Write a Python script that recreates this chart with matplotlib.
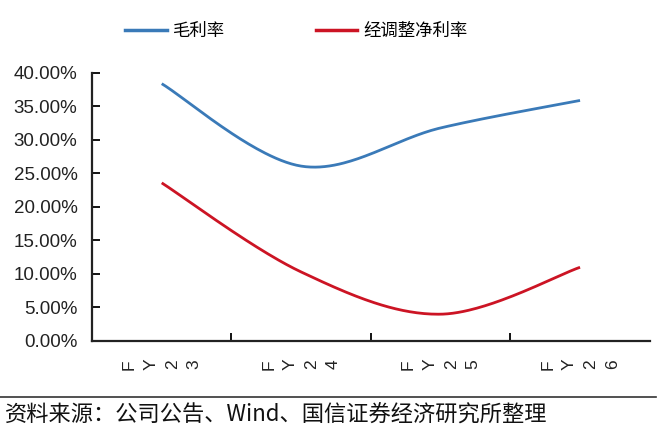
import numpy as np
import matplotlib
matplotlib.use("Agg")
import matplotlib.pyplot as plt
from matplotlib.lines import Line2D

plt.rcParams['font.family'] = ['Liberation Sans', 'Noto Sans CJK SC', 'DejaVu Sans']

# data
years = ["FY23", "FY24", "FY25", "FY26"]
gross_margin = [0.384, 0.261, 0.318, 0.359]
adj_net_margin = [0.236, 0.103, 0.040, 0.110]

BLUE = '#3a7ab8'
RED = '#cc1424'


# Excel-style smoothed line (Catmull-Rom through the points)
def smooth(y, n=60):
    x = np.arange(len(y), dtype=float)
    p = np.column_stack([x, np.asarray(y, dtype=float)])
    p = np.vstack([p[0], p, p[-1]])
    out = []
    for i in range(1, len(p) - 2):
        p0, p1, p2, p3 = p[i - 1], p[i], p[i + 1], p[i + 2]
        t = np.linspace(0, 1, n)[:, None]
        seg = 0.5 * ((2 * p1) + (-p0 + p2) * t
                     + (2 * p0 - 5 * p1 + 4 * p2 - p3) * t ** 2
                     + (-p0 + 3 * p1 - 3 * p2 + p3) * t ** 3)
        out.append(seg)
    out = np.vstack(out)
    return out[:, 0], out[:, 1]


fig = plt.figure(figsize=(6.59, 4.37), dpi=100)
ax = fig.add_axes([0.1396, 0.2197, 0.8464, 0.6133])

for vals, col in [(gross_margin, BLUE), (adj_net_margin, RED)]:
    sx, sy = smooth(vals)
    ax.plot(sx, sy, color=col, lw=2.0, solid_capstyle='butt')

ax.set_xlim(-0.5, 3.5)
ax.set_ylim(0, 0.40)
ax.set_yticks(np.arange(0, 0.401, 0.05))
ax.set_yticklabels([f"{v * 100:.2f}%" for v in np.arange(0, 0.401, 0.05)], fontsize=13.5, color='#222222')
ax.tick_params(axis='y', direction='in', length=6, width=1.3, pad=10.5)

# category boundaries as ticks
ax.set_xticks([0.5, 1.5, 2.5])
ax.set_xticklabels([])
ax.tick_params(axis='x', direction='in', length=6, width=1.3)

for s in ['top', 'right']:
    ax.spines[s].set_visible(False)
for s in ['left', 'bottom']:
    ax.spines[s].set_linewidth(1.6)
    ax.spines[s].set_color('#222222')

# tick labels: letters laid out left to right, each turned 90 deg
for i, lab in enumerate(years):
    k = len(lab)
    for j, ch in enumerate(lab):
        off = (j - (k - 1) / 2) * 15.5
        ax.annotate(ch, xy=(i, 0), xycoords=('data', 'axes fraction'),
                    xytext=(off, -17), textcoords='offset points',
                    rotation=90, ha='center', va='center', fontsize=12.5, color='#222222')

# legend
handles = [Line2D([], [], color=BLUE, lw=2.5), Line2D([], [], color=RED, lw=2.5)]
fig.legend(handles, ["毛利率", "经调整净利率"], loc='center', bbox_to_anchor=(0.45, 0.93),
           ncol=2, frameon=False, handlelength=2.4, handletextpad=0.35, columnspacing=5.2,
           prop={'family': ['Noto Sans CJK SC'], 'size': 12.5})

# source line and note
fig.add_artist(Line2D([0.0, 0.995], [0.092, 0.092], color='#333333', lw=1.2))
fig.text(0.008, 0.05, "资料来源：公司公告、Wind、国信证券经济研究所整理",
         fontsize=16, family=['Noto Sans CJK SC'], va='center', ha='left', color='#111111')

fig.savefig("out.png", dpi=100)
